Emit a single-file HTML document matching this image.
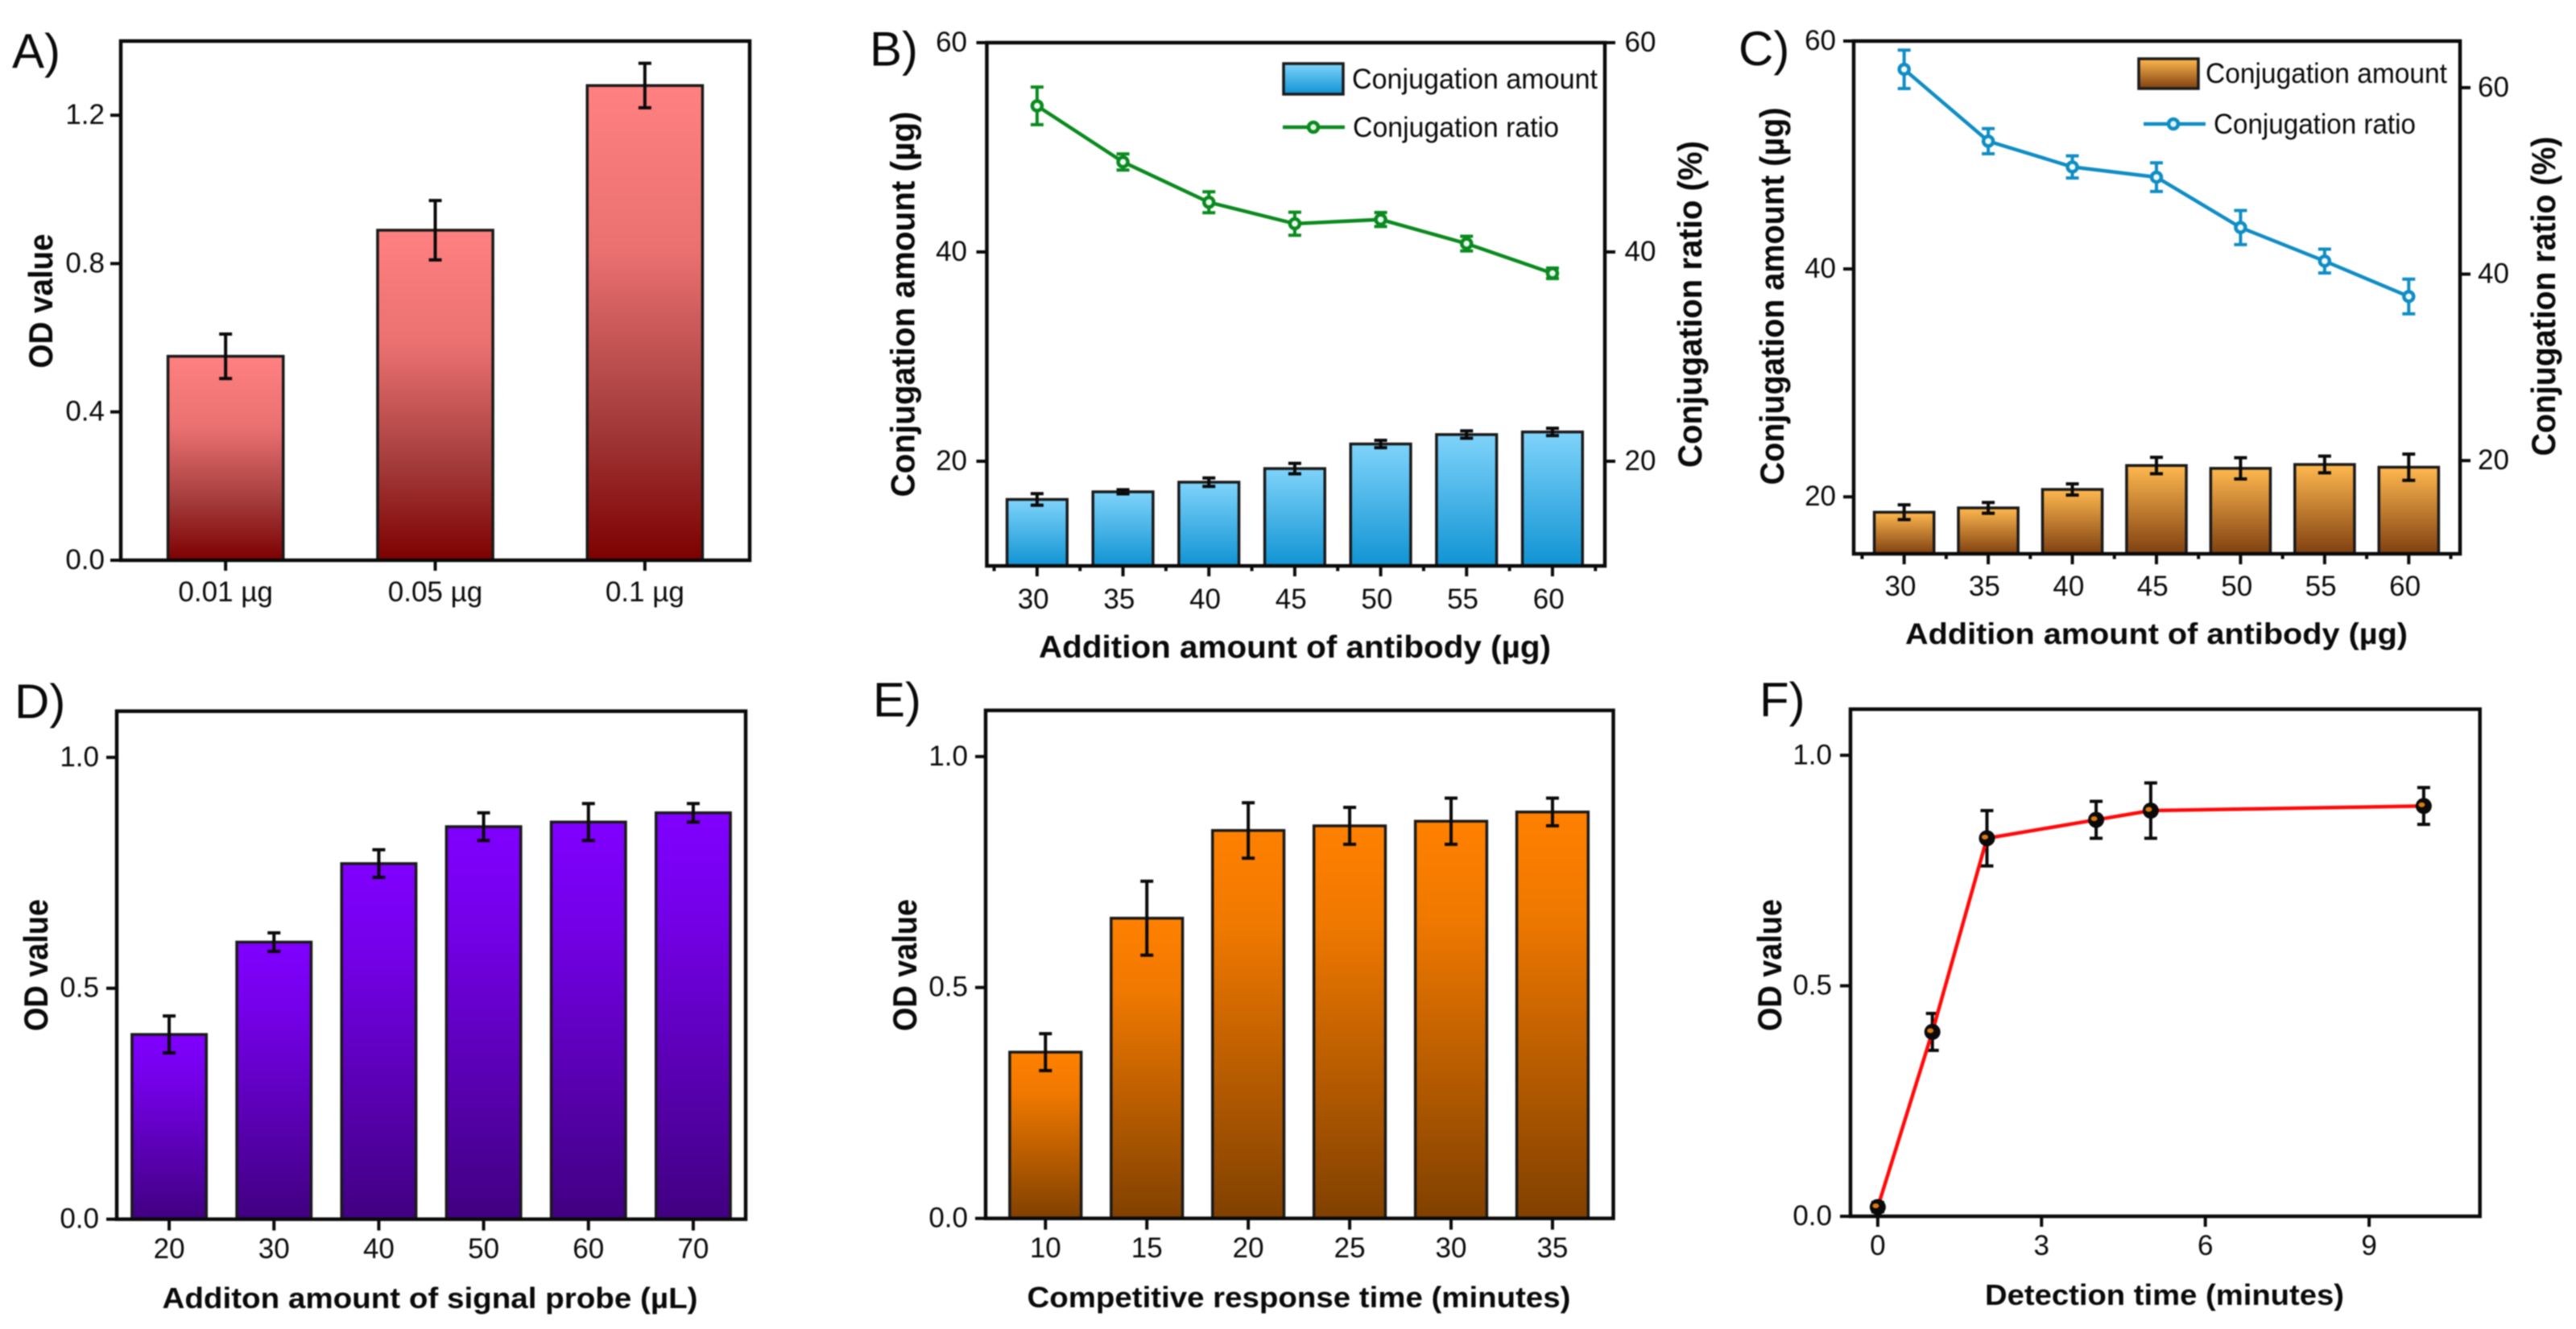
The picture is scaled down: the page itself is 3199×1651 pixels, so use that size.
<!DOCTYPE html>
<html lang="en">
<head>
<meta charset="utf-8">
<title>Optimization of conjugation and assay conditions</title>
<style>
html,body{margin:0;padding:0;background:#fff;width:3199px;height:1651px;overflow:hidden}
svg{display:block;filter:blur(0.7px)}
text{font-family:"Liberation Sans",Arial,sans-serif;fill:#0a0a0a}
.tick{font-size:35px}
.title{font-size:37px;font-weight:bold}
.title-large{font-size:41.5px;font-weight:bold}
.title-od{font-size:42px;font-weight:bold}
.panel{font-size:60px}
.legend{font-size:35px}
</style>
</head>
<body>
<svg id="figure" xmlns="http://www.w3.org/2000/svg" width="3199" height="1651" viewBox="0 0 3199 1651">
<defs>
<linearGradient id="gradA" x1="0" y1="0" x2="0" y2="1"><stop offset="0" stop-color="#ff8080"/><stop offset=".35" stop-color="#ea7070"/><stop offset=".7" stop-color="#a53d3d"/><stop offset="1" stop-color="#7d0000"/></linearGradient>
<linearGradient id="gradB" x1="0" y1="0" x2="0" y2="1"><stop offset="0" stop-color="#7fd3fa"/><stop offset="1" stop-color="#1093d3"/></linearGradient>
<linearGradient id="gradC" x1="0" y1="0" x2="0" y2="1"><stop offset="0" stop-color="#ffb84f"/><stop offset="1" stop-color="#7f4010"/></linearGradient>
<linearGradient id="gradD" x1="0" y1="0" x2="0" y2="1"><stop offset="0" stop-color="#8000ff"/><stop offset=".25" stop-color="#7400e8"/><stop offset="1" stop-color="#400080"/></linearGradient>
<linearGradient id="gradE" x1="0" y1="0" x2="0" y2="1"><stop offset="0" stop-color="#ff8000"/><stop offset=".25" stop-color="#ef7800"/><stop offset="1" stop-color="#804000"/></linearGradient>
</defs>

<text class="panel" x="15" y="84">A)</text>
<text class="panel" x="1080" y="81.5">B)</text>
<text class="panel" x="2159" y="81">C)</text>
<text class="panel" x="18" y="892">D)</text>
<text class="panel" x="1084" y="890">E)</text>
<text class="panel" x="2185" y="890">F)</text>

<g id="panels"></g>

<text class="title-od" text-anchor="middle" transform="translate(65,374) rotate(-90)" textLength="167" lengthAdjust="spacingAndGlyphs">OD value</text>

<text class="title-large" text-anchor="middle" transform="translate(1135.5,378) rotate(-90)" textLength="479" lengthAdjust="spacingAndGlyphs">Conjugation amount (µg)</text>
<text class="title-large" text-anchor="middle" transform="translate(2113,378) rotate(-90)" textLength="406" lengthAdjust="spacingAndGlyphs">Conjugation ratio (%)</text>
<text class="title" style="font-size:38.5px" text-anchor="middle" x="1608" y="817" textLength="636" lengthAdjust="spacingAndGlyphs">Addition amount of antibody (µg)</text>

<text class="title-large" text-anchor="middle" transform="translate(2215,368) rotate(-90)" textLength="469" lengthAdjust="spacingAndGlyphs">Conjugation amount (µg)</text>
<text class="title-large" text-anchor="middle" transform="translate(3173,368) rotate(-90)" textLength="397" lengthAdjust="spacingAndGlyphs">Conjugation ratio (%)</text>
<text class="title" text-anchor="middle" x="2678" y="800" textLength="624" lengthAdjust="spacingAndGlyphs">Addition amount of antibody (µg)</text>

<text class="title-od" text-anchor="middle" transform="translate(59,1199) rotate(-90)" textLength="164" lengthAdjust="spacingAndGlyphs">OD value</text>
<text class="title" style="font-size:36px" text-anchor="middle" x="534" y="1625" textLength="665" lengthAdjust="spacingAndGlyphs">Additon amount of signal probe (µL)</text>

<text class="title-od" text-anchor="middle" transform="translate(1138,1199) rotate(-90)" textLength="164" lengthAdjust="spacingAndGlyphs">OD value</text>
<text class="title" style="font-size:36px" text-anchor="middle" x="1613" y="1624" textLength="675" lengthAdjust="spacingAndGlyphs">Competitive response time (minutes)</text>

<text class="title-od" text-anchor="middle" transform="translate(2212,1199) rotate(-90)" textLength="164" lengthAdjust="spacingAndGlyphs">OD value</text>
<text class="title" style="font-size:36px" text-anchor="middle" x="2688" y="1621" textLength="446" lengthAdjust="spacingAndGlyphs">Detection time (minutes)</text>

<g>
  <rect x="1594" y="79" width="74" height="38" fill="url(#gradB)" stroke="#1a1a1a" stroke-width="3.5"/>
  <text class="legend" x="1679" y="110" textLength="305" lengthAdjust="spacingAndGlyphs">Conjugation amount</text>
  <line x1="1593" y1="158" x2="1670" y2="158" stroke="#0a8a1e" stroke-width="4.5"/>
  <circle cx="1631" cy="158" r="6" fill="#dff5e0" stroke="#0a8a1e" stroke-width="4.5"/>
  <text class="legend" x="1680" y="170" textLength="256" lengthAdjust="spacingAndGlyphs">Conjugation ratio</text>
</g>
<g>
  <rect x="2656" y="73" width="74" height="37" fill="url(#gradC)" stroke="#1a1a1a" stroke-width="3.5"/>
  <text class="legend" x="2739" y="103" textLength="300" lengthAdjust="spacingAndGlyphs">Conjugation amount</text>
  <line x1="2662" y1="154" x2="2739" y2="154" stroke="#0f8dc4" stroke-width="4.5"/>
  <circle cx="2699" cy="154" r="6" fill="#dff1fa" stroke="#0f8dc4" stroke-width="4.5"/>
  <text class="legend" x="2749" y="166" textLength="251" lengthAdjust="spacingAndGlyphs">Conjugation ratio</text>
</g>
</svg>

<script>
// ---- Panel A data ----
const panelACategories = ['0.01 µg', '0.05 µg', '0.1 µg'];
const panelAValues = [0.55, 0.89, 1.28];
const panelAErrors = [0.06, 0.08, 0.06];
const panelAYTicks = [0, 0.4, 0.8, 1.2];
const panelAYTickLabels = ['0.0', '0.4', '0.8', '1.2'];

// ---- Panel B data ----
const panelBCategories = ['30', '35', '40', '45', '50', '55', '60'];
const panelBAmount = [16.35, 17.08, 18.0, 19.3, 21.65, 22.55, 22.8];
const panelBAmountErrors = [0.55, 0.2, 0.4, 0.5, 0.35, 0.35, 0.35];
const panelBRatio = [53.96, 48.6, 44.75, 42.7, 43.1, 40.8, 37.96];
const panelBRatioErrors = [1.8, 0.77, 1.0, 1.1, 0.67, 0.7, 0.5];
const panelBLeftTicks = [20, 40, 60];
const panelBLeftTickLabels = ['20', '40', '60'];
const panelBRightTicks = [20, 40, 60];
const panelBRightTickLabels = ['20', '40', '60'];

// ---- Panel C data ----
const panelCCategories = ['30', '35', '40', '45', '50', '55', '60'];
const panelCAmount = [18.65, 19.03, 20.65, 22.75, 22.5, 22.84, 22.6];
const panelCAmountErrors = [0.65, 0.47, 0.49, 0.72, 0.93, 0.73, 1.15];
const panelCRatio = [61.97, 54.26, 51.5, 50.4, 45.0, 41.4, 37.6];
const panelCRatioErrors = [2.06, 1.35, 1.19, 1.54, 1.83, 1.28, 1.86];
const panelCLeftTicks = [20, 40, 60];
const panelCLeftTickLabels = ['20', '40', '60'];
const panelCRightTicks = [20, 40, 60];
const panelCRightTickLabels = ['20', '40', '60'];

// ---- Panel D data ----
const panelDCategories = ['20', '30', '40', '50', '60', '70'];
const panelDValues = [0.40, 0.60, 0.77, 0.85, 0.86, 0.88];
const panelDErrors = [0.04, 0.02, 0.03, 0.03, 0.04, 0.02];
const panelDYTicks = [0, 0.5, 1.0];
const panelDYTickLabels = ['0.0', '0.5', '1.0'];

// ---- Panel E data ----
const panelECategories = ['10', '15', '20', '25', '30', '35'];
const panelEValues = [0.36, 0.65, 0.84, 0.85, 0.86, 0.88];
const panelEErrors = [0.04, 0.08, 0.06, 0.04, 0.05, 0.03];
const panelEYTicks = [0, 0.5, 1.0];
const panelEYTickLabels = ['0.0', '0.5', '1.0'];

// ---- Panel F data ----
const panelFTimes = [0, 1, 2, 4, 5, 10];
const panelFValues = [0.02, 0.40, 0.82, 0.86, 0.88, 0.89];
const panelFErrors = [0.01, 0.04, 0.06, 0.04, 0.06, 0.04];
const panelFXTicks = [0, 3, 6, 9];
const panelFXTickLabels = ['0', '3', '6', '9'];
const panelFYTicks = [0, 0.5, 1.0];
const panelFYTickLabels = ['0.0', '0.5', '1.0'];

// ---- Helpers ----
const SVG_NS = 'http://www.w3.org/2000/svg';
const root = document.getElementById('panels');

function make(parent, tag, attrs, content) {
  const node = document.createElementNS(SVG_NS, tag);
  for (const key in attrs) node.setAttribute(key, attrs[key]);
  if (content !== undefined) node.textContent = content;
  parent.appendChild(node);
  return node;
}

function linear(d0, d1, r0, r1) {
  return function (v) { return r0 + (v - d0) * (r1 - r0) / (d1 - d0); };
}

function drawFrame(g, box, id) {
  const frame = make(g, 'rect', {x: box.left, y: box.top, width: box.right - box.left, height: box.bottom - box.top, fill: 'none', stroke: '#0a0a0a', 'stroke-width': 4.5});
  
  
}

function drawYAxis(g, box, scale, ticks, labels, side, id) {
  const dir = side === 'left' ? -1 : 1;
  const edge = side === 'left' ? box.left : box.right;
  ticks.forEach(function (t, i) {
    const y = scale(t);
    const tick = make(g, 'line', {x1: edge, y1: y, x2: edge + dir * box.yTick, y2: y, stroke: '#0a0a0a', 'stroke-width': 4});
    
    
    const label = make(g, 'text', {class: 'tick', x: edge + dir * (box.yTick + box.yGap), y: y + 11, 'text-anchor': side === 'left' ? 'end' : 'start'}, labels[i]);
    
    
  });
}

function drawCategoryAxis(g, box, x, categories, id) {
  categories.forEach(function (c, i) {
    const tick = make(g, 'line', {x1: x(i), y1: box.bottom, x2: x(i), y2: box.bottom + box.xTick, stroke: '#0a0a0a', 'stroke-width': 4});
    
    
    const label = make(g, 'text', {class: 'tick', x: x(i) + box.labelDx, y: box.xLabelY, 'text-anchor': 'middle'}, c);
    
    
  });
  if (box.minor) {
    for (let i = 0; i <= categories.length; i++) {
      const m = make(g, 'line', {x1: x(i - 0.5), y1: box.bottom, x2: x(i - 0.5), y2: box.bottom + box.xTick / 2, stroke: '#0a0a0a', 'stroke-width': 4});
      
      
    }
  }
}

function drawErrorBar(g, xPos, yLow, yHigh, cap, color, width, id) {
  const bar = make(g, 'path', {
    d: 'M' + (xPos - cap) + ' ' + yHigh + 'H' + (xPos + cap) + 'M' + xPos + ' ' + yHigh + 'V' + yLow + 'M' + (xPos - cap) + ' ' + yLow + 'H' + (xPos + cap),
    fill: 'none', stroke: color, 'stroke-width': width
  });
  
  
}

function drawBars(g, box, x, y, values, errors, fillUrl, id) {
  const step = x(1) - x(0);
  const w = step * box.barRatio;
  values.forEach(function (v, i) {
    const top = y(v);
    const bar = make(g, 'rect', {x: x(i) - w / 2, y: top, width: w, height: box.bottom - top, fill: fillUrl, stroke: '#1a1a1a', 'stroke-width': 3.5});
    
    
    drawErrorBar(g, x(i), y(v - errors[i]), y(v + errors[i]), 8, '#0a0a0a', 4, id + '-bar-' + i);
  });
}

function drawRatioLine(g, x, y, values, errors, color, id) {
  values.forEach(function (v, i) {
    drawErrorBar(g, x(i), y(v - errors[i]), y(v + errors[i]), 8, color, 4, id + '-ratio-' + i);
  });
  const pts = values.map(function (v, i) { return x(i) + ',' + y(v); }).join(' ');
  const line = make(g, 'polyline', {points: pts, fill: 'none', stroke: color, 'stroke-width': 4.5});
  
  
  values.forEach(function (v, i) {
    const dot = make(g, 'circle', {cx: x(i), cy: y(v), r: 6, fill: '#eef9f4', stroke: color, 'stroke-width': 4.5});
    
    
  });
}

function newPanel(id) {
  const g = make(root, 'g', {});
  
  
  return g;
}

function categoryScale(box) {
  return linear(box.xMin, box.xMax, box.left, box.right);
}

function barPanel(id, box, categories, values, errors, yTicks, yLabels, fillUrl) {
  const g = newPanel(id);
  const x = categoryScale(box);
  const y = linear(box.yMin, box.yMax, box.bottom, box.top);
  drawBars(g, box, x, y, values, errors, fillUrl, id);
  drawFrame(g, box, id);
  drawYAxis(g, box, y, yTicks, yLabels, 'left', id);
  drawCategoryAxis(g, box, x, categories, id);
}

function dualPanel(id, box, categories, amount, amountErr, ratio, ratioErr, leftTicks, leftLabels, rightTicks, rightLabels, fillUrl, color) {
  const g = newPanel(id);
  const x = categoryScale(box);
  const yL = linear(box.yMin, box.yMax, box.bottom, box.top);
  const yR = linear(box.y2Min, box.y2Max, box.bottom, box.top);
  drawBars(g, box, x, yL, amount, amountErr, fillUrl, id);
  drawFrame(g, box, id);
  drawYAxis(g, box, yL, leftTicks, leftLabels, 'left', id);
  drawYAxis(g, box, yR, rightTicks, rightLabels, 'right', id);
  drawCategoryAxis(g, box, x, categories, id);
  drawRatioLine(g, x, yR, ratio, ratioErr, color, id);
}

function linePanel(id, box, times, values, errors, xTicks, xLabels, yTicks, yLabels) {
  const g = newPanel(id);
  const x = linear(box.xMin, box.xMax, box.left, box.right);
  const y = linear(box.yMin, box.yMax, box.bottom, box.top);
  drawFrame(g, box, id);
  drawYAxis(g, box, y, yTicks, yLabels, 'left', id);
  xTicks.forEach(function (t, i) {
    const tick = make(g, 'line', {x1: x(t), y1: box.bottom, x2: x(t), y2: box.bottom + box.xTick, stroke: '#0a0a0a', 'stroke-width': 4});
    
    
    const label = make(g, 'text', {class: 'tick', x: x(t), y: box.xLabelY, 'text-anchor': 'middle'}, xLabels[i]);
    
    
  });
  values.forEach(function (v, i) {
    drawErrorBar(g, x(times[i]), y(v - errors[i]), y(v + errors[i]), 8, '#0a0a0a', 4, id + '-point-' + i);
  });
  const pts = values.map(function (v, i) { return x(times[i]) + ',' + y(v); }).join(' ');
  const line = make(g, 'polyline', {points: pts, fill: 'none', stroke: '#ff0a0a', 'stroke-width': 4.5});
  
  
  values.forEach(function (v, i) {
    const dot = make(g, 'circle', {cx: x(times[i]), cy: y(v), r: 10, fill: '#0a0a0a'});
    
    
    const core = make(g, 'ellipse', {cx: x(times[i]) - 2.5, cy: y(v) - 1.5, rx: 4, ry: 3, fill: '#e07a10'});
    
    
  });
}

// ---- Layout (frame geometry and axis domains) ----
const boxA = {left: 150, right: 931, top: 51, bottom: 696, xMin: -0.5, xMax: 2.5, yMin: 0, yMax: 1.4, barRatio: 0.55, yTick: 13, yGap: 7, xTick: 13, xLabelY: 747, labelDx: 0};
const boxB = {left: 1225.5, right: 1993, top: 53, bottom: 703, xMin: -0.585, xMax: 6.61, yMin: 10, yMax: 60, y2Min: 10, y2Max: 60, barRatio: 0.70, yTick: 13, yGap: 11.5, xTick: 13, xLabelY: 756, labelDx: -4.7, minor: true};
const boxC = {left: 2302, right: 3055, top: 51, bottom: 688, xMin: -0.6, xMax: 6.61, yMin: 15, yMax: 60, y2Min: 10, y2Max: 65, barRatio: 0.71, yTick: 13, yGap: 9, xTick: 13, xLabelY: 740, labelDx: -4.7, minor: true};
const boxD = {left: 145, right: 926, top: 883.5, bottom: 1514.6, xMin: -0.5, xMax: 5.5, yMin: 0, yMax: 1.1, barRatio: 0.71, yTick: 13, yGap: 9, xTick: 14, xLabelY: 1563, labelDx: 0};
const boxE = {left: 1224, right: 2003.5, top: 882.5, bottom: 1513.6, xMin: -0.59, xMax: 5.6, yMin: 0, yMax: 1.1, barRatio: 0.705, yTick: 13, yGap: 9, xTick: 14, xLabelY: 1562, labelDx: 0};
const boxF = {left: 2298, right: 3079.7, top: 881, bottom: 1511, xMin: -0.5, xMax: 11.03, yMin: 0, yMax: 1.1, yTick: 13, yGap: 10, xTick: 13, xLabelY: 1559};

barPanel('panel-a', boxA, panelACategories, panelAValues, panelAErrors, panelAYTicks, panelAYTickLabels, 'url(#gradA)');
dualPanel('panel-b', boxB, panelBCategories, panelBAmount, panelBAmountErrors, panelBRatio, panelBRatioErrors, panelBLeftTicks, panelBLeftTickLabels, panelBRightTicks, panelBRightTickLabels, 'url(#gradB)', '#0a8a1e');
dualPanel('panel-c', boxC, panelCCategories, panelCAmount, panelCAmountErrors, panelCRatio, panelCRatioErrors, panelCLeftTicks, panelCLeftTickLabels, panelCRightTicks, panelCRightTickLabels, 'url(#gradC)', '#0f8dc4');
barPanel('panel-d', boxD, panelDCategories, panelDValues, panelDErrors, panelDYTicks, panelDYTickLabels, 'url(#gradD)');
barPanel('panel-e', boxE, panelECategories, panelEValues, panelEErrors, panelEYTicks, panelEYTickLabels, 'url(#gradE)');
linePanel('panel-f', boxF, panelFTimes, panelFValues, panelFErrors, panelFXTicks, panelFXTickLabels, panelFYTicks, panelFYTickLabels);
</script>
</body>
</html>
